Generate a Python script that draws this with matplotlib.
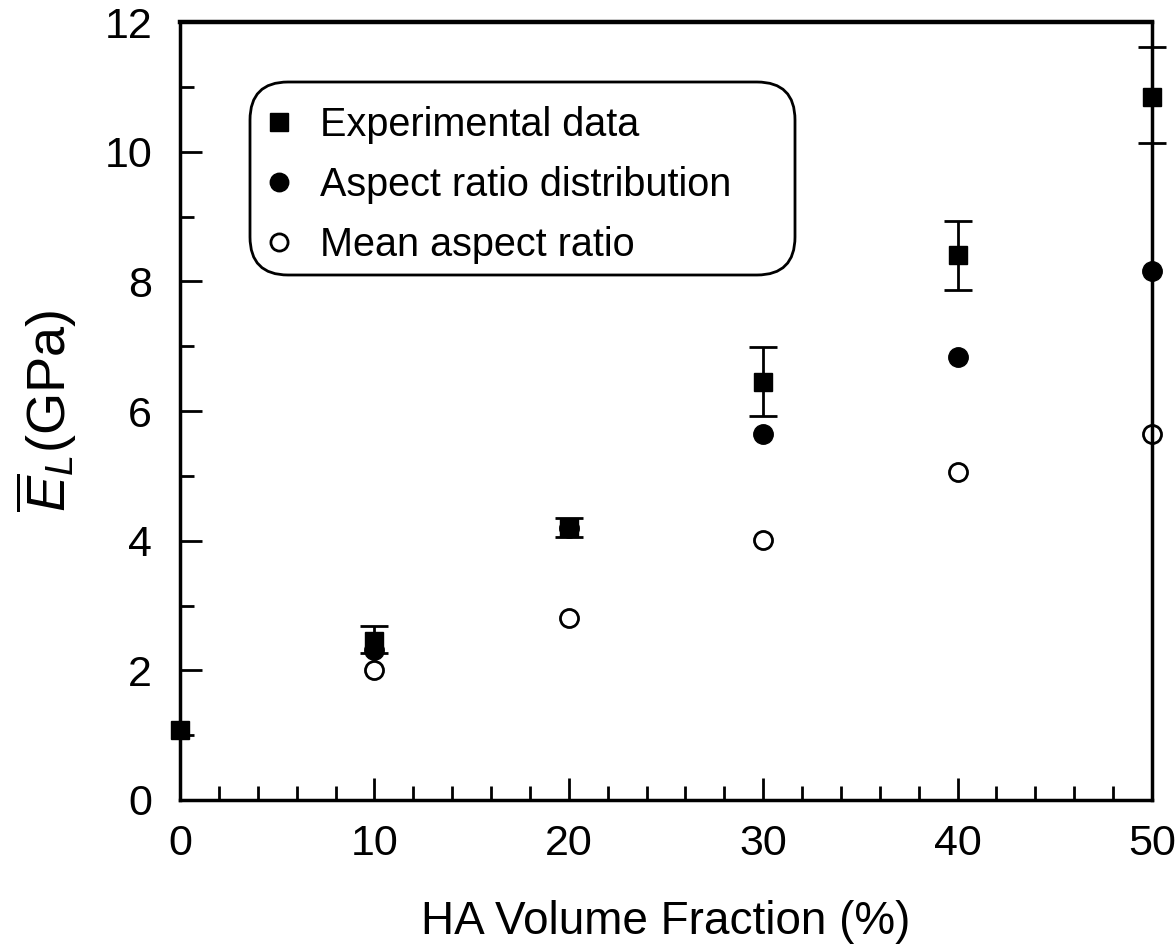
import matplotlib
matplotlib.use("Agg")
import matplotlib.pyplot as plt
from matplotlib.ticker import MultipleLocator
from matplotlib.patches import FancyBboxPatch
from matplotlib.transforms import IdentityTransform

plt.rcParams['font.family'] = ['Liberation Sans', 'DejaVu Sans']
plt.rcParams['mathtext.fontset'] = 'custom'
plt.rcParams['mathtext.rm'] = 'Liberation Sans'
plt.rcParams['mathtext.it'] = 'Liberation Sans:italic'

# data
exp_x = [0, 10, 20, 30, 40, 50]
exp_y = [1.08, 2.45, 4.2, 6.45, 8.4, 10.85]
exp_err_low = [float('nan'), 0.19, 0.15, 0.53, 0.53, 0.72]
exp_err_high = [float('nan'), 0.23, 0.15, 0.54, 0.53, 0.77]

dist_x = [10, 20, 30, 40, 50]
dist_y = [2.31, 4.2, 5.64, 6.83, 8.16]

mean_x = [10, 20, 30, 40, 50]
mean_y = [2.0, 2.81, 4.01, 5.06, 5.65]

fig = plt.figure(figsize=(11.75, 9.5), dpi=100)
ax = fig.add_axes([0.1532, 0.1579, 0.8272, 0.8189])

mean_line, = ax.plot(mean_x, mean_y, 'o', color='black', markerfacecolor='white',
                     markersize=13, markeredgewidth=2, clip_on=False, zorder=2)
dist_line, = ax.plot(dist_x, dist_y, 'o', color='black', markersize=14,
                     clip_on=False, zorder=2)
eb = ax.errorbar(exp_x, exp_y, yerr=[exp_err_low, exp_err_high], fmt='s',
                 color='black', markersize=13, elinewidth=2, capsize=10,
                 capthick=2, zorder=3)
eb.lines[0].set_clip_on(False)
for artist in list(eb.lines[1]) + list(eb.lines[2]):
    artist.set_clip_on(False)

ax.set_xlim(0, 50)
ax.set_ylim(0, 12)
ax.xaxis.set_major_locator(MultipleLocator(10))
ax.xaxis.set_minor_locator(MultipleLocator(2))
ax.yaxis.set_major_locator(MultipleLocator(2))
ax.yaxis.set_minor_locator(MultipleLocator(1))
ax.tick_params(which='major', direction='in', length=16, width=2,
               labelsize=31, top=False, right=False)
ax.tick_params(which='minor', direction='in', length=10, width=2,
               top=False, right=False)
ax.tick_params(axis='x', which='major', pad=17)
ax.tick_params(axis='y', which='major', pad=20)

for side in ['left', 'bottom', 'right']:
    ax.spines[side].set_linewidth(2.5)
ax.spines['top'].set_linewidth(3.2)

ax.set_xlabel('HA Volume Fraction (%)', fontsize=33, labelpad=26)
ax.set_ylabel(r'$\overline{E}_L$(GPa)', fontsize=39, labelpad=18)

# legend text, rounded frame drawn separately (wider right margin as in source)
leg = ax.legend([eb.lines[0], dist_line, mean_line],
                ['Experimental data', 'Aspect ratio distribution', 'Mean aspect ratio'],
                loc='upper left', bbox_to_anchor=(0.081, 0.892),
                borderaxespad=0, borderpad=0, fontsize=28.5, markerscale=0.95,
                handlelength=1, handletextpad=0.55, labelspacing=0.55,
                frameon=False)
leg.set_zorder(5)
box = FancyBboxPatch((250, 950 - 275), 545, 193,
                     boxstyle='round,pad=0,rounding_size=38',
                     transform=IdentityTransform(), facecolor='white',
                     edgecolor='black', linewidth=2, zorder=4, clip_on=False)
ax.add_artist(box)

fig.savefig('out.png', dpi=100)
